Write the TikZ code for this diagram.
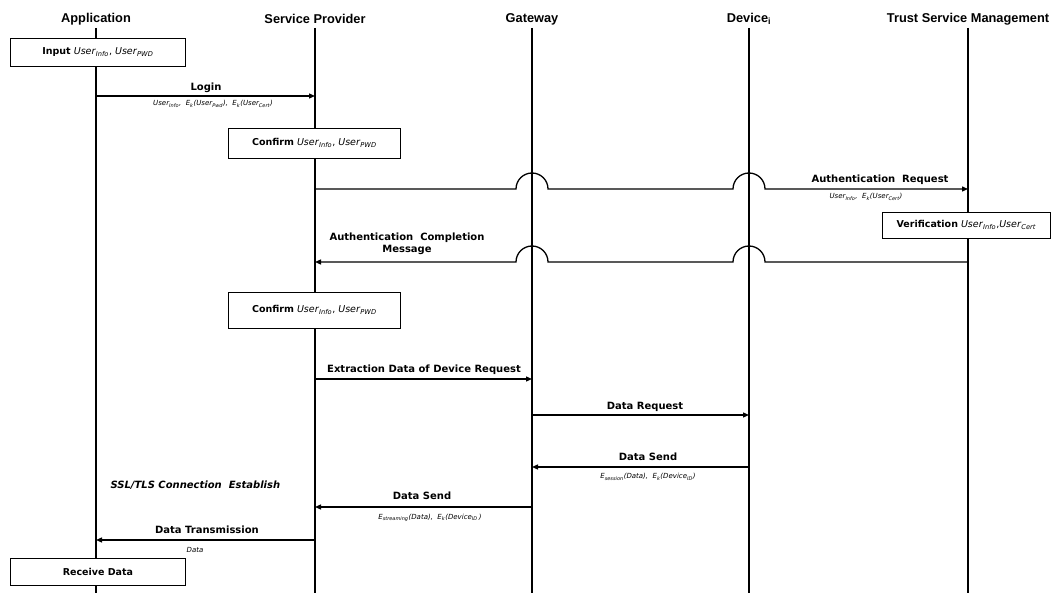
\documentclass[tikz,border=0pt]{standalone}
\usepackage{fontspec}
\setmainfont{DejaVu Sans}
\newfontfamily\headfont{Liberation Sans}
\usetikzlibrary{arrows.meta}

% italic name with italic subscript
\newcommand\nm[2]{\textit{#1}\textsubscript{\textit{#2}}}

\begin{document}
\begin{tikzpicture}[x=1pt,y=-1pt,
  head/.style={font=\headfont\bfseries\fontsize{12.8}{14}\selectfont},
  life/.style={line width=2.4pt},
  msg/.style={line width=1.3pt,-{Triangle[length=6pt,width=5pt]}},
  lbl/.style={font=\bfseries\fontsize{10}{12}\selectfont,align=center},
  sub/.style={font=\itshape\fontsize{7}{8}\selectfont},
  boxtext/.style={font=\fontsize{9.5}{11}\selectfont},
  actbox/.style={draw,line width=0.8pt,fill=white,anchor=north west,inner sep=0pt}
]
\useasboundingbox (0,0) rectangle (1058,593);

% lifeline heads
\node[head] (app) at (96,19) {Application};
\node[head] (sp)  at (315,19) {Service Provider};
\node[head] (gw)  at (532,19) {Gateway};
\node[head] (dev) at (749,19) {Device\textsubscript{i}};
\node[head] (tsm) at (968,19) {Trust Service Management};

\foreach \n/\x in {appL/96,spL/315,gwL/532,devL/749,tsmL/968}{
  \coordinate (\n t) at (\x,28);
  \coordinate (\n b) at (\x,593);
}
\draw[life] (appLt) -- (appLb);
\draw[life] (spLt) -- (spLb);
\draw[life] (gwLt) -- (gwLb);
\draw[life] (devLt) -- (devLb);
\draw[life] (tsmLt) -- (tsmLb);

% activity boxes
\node[actbox,minimum width=175pt,minimum height=28pt] (inp) at (10,38) {};
\node[boxtext] at (inp.center) {\textbf{Input}\ \nm{User}{Info},\ \nm{User}{PWD}};

\node[actbox,minimum width=172pt,minimum height=30pt] (cf1) at (228,128) {};
\node[boxtext] at (cf1.center) {\textbf{Confirm}\ \nm{User}{Info},\ \nm{User}{PWD}};

\node[actbox,minimum width=168pt,minimum height=26pt] (ver) at (882,212) {};
\node[boxtext] at (ver.center) {\textbf{Verification}\ \nm{User}{Info},\nm{User}{Cert}};

\node[actbox,minimum width=172pt,minimum height=36pt] (cf2) at (228,292) {};
\node[boxtext] at (cf2.center) {\textbf{Confirm}\ \nm{User}{Info},\ \nm{User}{PWD}};

\node[actbox,minimum width=175pt,minimum height=27pt] (rcv) at (10,558) {};
\node[boxtext] at (rcv.center) {\textbf{Receive Data}};

% message end points
\coordinate (m1a) at (96,96);   \coordinate (m1b) at (315,96);
\coordinate (m2a) at (315,189); \coordinate (m2b) at (968,189);
\coordinate (m3a) at (968,262); \coordinate (m3b) at (315,262);
\coordinate (m4a) at (315,379); \coordinate (m4b) at (532,379);
\coordinate (m5a) at (532,415); \coordinate (m5b) at (749,415);
\coordinate (m6a) at (749,467); \coordinate (m6b) at (532,467);
\coordinate (m7a) at (532,507); \coordinate (m7b) at (315,507);
\coordinate (m8a) at (315,540); \coordinate (m8b) at (96,540);

% Login
\draw[msg] (m1a) -- (m1b);
\node[lbl] at (206,88) {Login};
\node[sub] at (213,104) {\nm{User}{Info},\ \ \nm{E}{k}(\nm{User}{Pwd}),\ \ \nm{E}{k}(\nm{User}{Cert})};

% Authentication request, hopping over Gateway and Device lines
\draw[msg] (m2a) -- ++(201pt,0) arc[start angle=180,end angle=0,radius=16pt]
  -- ++(185pt,0) arc[start angle=180,end angle=0,radius=16pt] -- (m2b);
\node[lbl] at (880,180) {Authentication\ \ Request};
\node[sub] at (866,197) {\nm{User}{Info},\ \ \nm{E}{k}(\nm{User}{Cert})};

% Authentication completion
\draw[msg] (m3a) -- ++(-203pt,0) arc[start angle=0,end angle=180,radius=16pt]
  -- ++(-185pt,0) arc[start angle=0,end angle=180,radius=16pt] -- (m3b);
\node[lbl] at (407,244) {Authentication\ \ Completion\\Message};

% Extraction request
\draw[msg] (m4a) -- (m4b);
\node[lbl] at (424,370) {Extraction Data of Device Request};

% Data request
\draw[msg] (m5a) -- (m5b);
\node[lbl] at (645,407) {Data Request};

% Data send (device to gateway)
\draw[msg] (m6a) -- (m6b);
\node[lbl] at (648,457) {Data Send};
\node[sub] at (648,477) {\nm{E}{session}(Data),\ \ \nm{E}{k}(\nm{Device}{ID})};

\node[font=\bfseries\itshape\fontsize{10}{12}\selectfont,anchor=west] at (107,485) {SSL/TLS Connection\ \ Establish};

% Data send (gateway to provider)
\draw[msg] (m7a) -- (m7b);
\node[lbl] at (422,496) {Data Send};
\node[sub] at (430,518) {\nm{E}{streaming}(Data),\ \ \nm{E}{k}(\nm{Device}{ID}\,)};

% Data transmission
\draw[msg] (m8a) -- (m8b);
\node[lbl] at (207,530) {Data Transmission};
\node[sub] at (195,550) {Data};
\end{tikzpicture}
\end{document}
